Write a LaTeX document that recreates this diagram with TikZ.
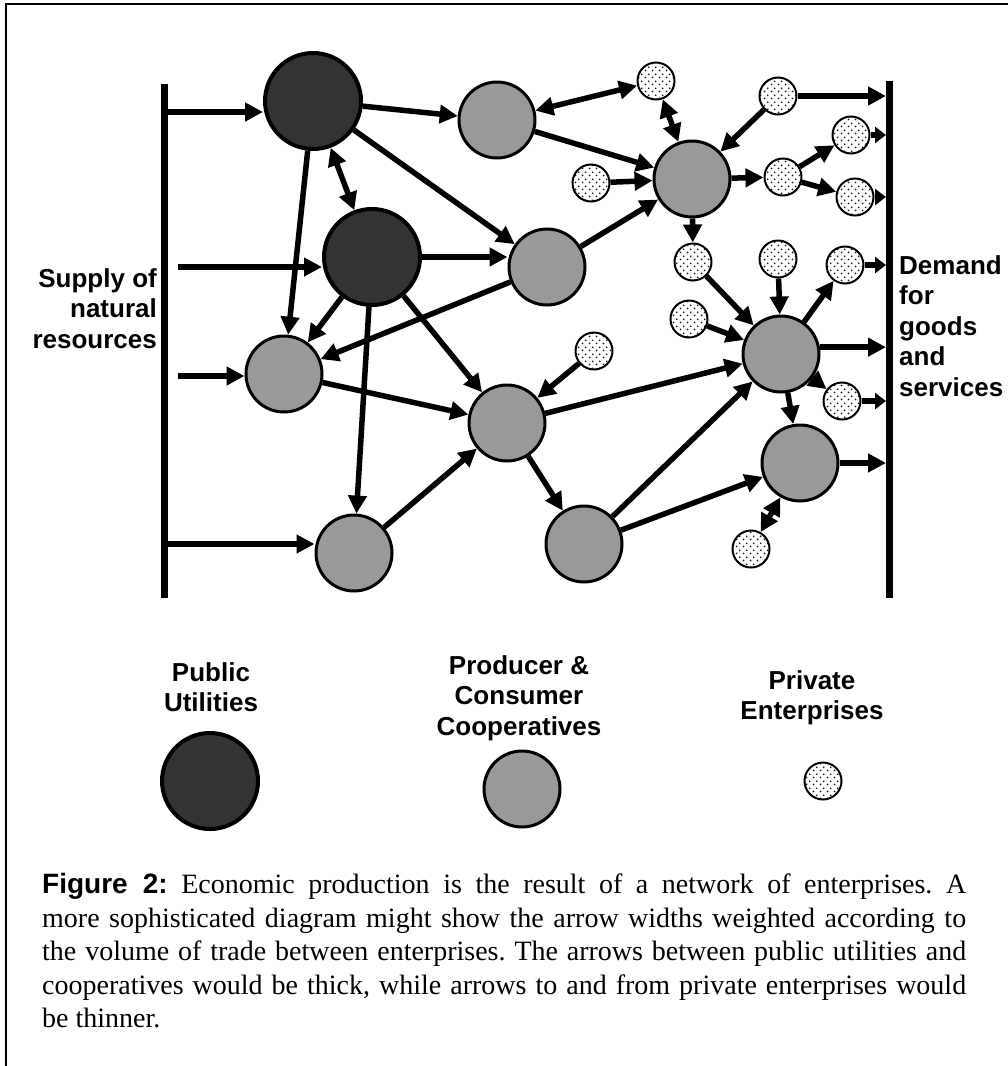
\documentclass[tikz,border=0pt]{standalone}
\usepackage{fontspec}
\setmainfont{Liberation Serif}
\setsansfont{Liberation Sans}
\usetikzlibrary{arrows.meta,patterns.meta}
\definecolor{pudark}{HTML}{333333}
\definecolor{coopgray}{HTML}{999999}
\tikzdeclarepattern{
  name=pdots,
  type=uncolored,
  bottom left={(0pt,0pt)},
  top right={(7pt,7pt)},
  tile size={(7pt,7pt)},
  code={
    \pgfpathcircle{\pgfpoint{1.75pt}{1.75pt}}{1.05pt}
    \pgfpathcircle{\pgfpoint{5.25pt}{5.25pt}}{1.05pt}
    \pgfusepath{fill}
  }
}
\frenchspacing
\begin{document}
\begin{tikzpicture}[x=1pt,y=-1pt,
  pu/.style={circle,draw=black,fill=pudark,line width=4pt,minimum size=96pt,inner sep=0pt},
  coop/.style={circle,draw=black,fill=coopgray,line width=3pt,minimum size=76pt,inner sep=0pt},
  priv/.style={circle,draw=black,preaction={fill=white},pattern=pdots,pattern color=black!90,line width=2pt,minimum size=37pt,inner sep=0pt},
  arr/.style={line width=5.5pt,-{Triangle[length=18pt,width=18pt]}},
  sarr/.style={line width=5.5pt,-{Triangle[length=11pt,width=16pt]}},
  darr/.style={line width=5.5pt,{Triangle[length=18pt,width=18pt]}-{Triangle[length=18pt,width=18pt]}},
  barline/.style={line width=7pt},
  lbl/.style={font=\sffamily\bfseries\fontsize{26}{30.5}\selectfont,inner sep=0pt},
  captext/.style={font=\fontsize{28}{33.5}\selectfont,inner sep=0pt,align=left,anchor=north west}
]
\useasboundingbox (0,0) rectangle (1008,1066);
% frame
\draw[line width=2.5pt] (6,1066) -- (6,4) -- (1008,4);
% bars
\draw[barline] (164.5,84) -- (164.5,598);
\draw[barline] (889.5,81) -- (889.5,598);
\coordinate (R) at (886,0);
\coordinate (L1) at (168,112);
\coordinate (L2) at (178,267);
\coordinate (L3) at (178,376);
\coordinate (L4) at (168,544);
% public utilities
\node[pu] (PU1) at (313,101) {};
\node[pu] (PU2) at (372,257) {};
% cooperatives
\node[coop] (C1) at (497,120) {};
\node[coop] (C2) at (692,179) {};
\node[coop] (C3) at (547,267) {};
\node[coop] (C4) at (284,374) {};
\node[coop] (C5) at (507,423) {};
\node[coop] (C6) at (354,553) {};
\node[coop] (C7) at (584,544) {};
\node[coop] (C8) at (781,354) {};
\node[coop] (C9) at (800,463) {};
% private enterprises
\node[priv] (P1) at (656,81) {};
\node[priv] (P2) at (778,96) {};
\node[priv] (P3) at (851,135) {};
\node[priv] (P4) at (591,183) {};
\node[priv] (P5) at (783,177) {};
\node[priv] (P6) at (855,197) {};
\node[priv] (P7) at (693,262) {};
\node[priv] (P8) at (778,259) {};
\node[priv] (P9) at (845,265) {};
\node[priv] (P10) at (689,319) {};
\node[priv] (P11) at (594,351) {};
\node[priv] (P12) at (842,401) {};
\node[priv] (P13) at (751,549) {};
% supply arrows
\draw[arr] (L1) -- (L1 -| PU1.west);
\draw[arr] (L2) -- (L2 -| PU2.west);
\draw[arr] (L3) -- (L3 -| C4.west);
\draw[arr] (L4) -- (L4 -| C6.west);
% network
\draw[arr] (PU1) -- (C1);
\draw[darr] (PU1) -- (PU2);
\draw[arr] (PU1) -- (C3);
\draw[arr] (PU1) -- (C4);
\draw[arr] (PU2.east) -- (PU2.east -| C3.west);
\draw[arr] (PU2) -- (C4);
\draw[arr] (C3) -- (C4);
\draw[arr] (PU2) -- (C5);
\draw[arr] (PU2) -- (C6);
\draw[arr] (C4) -- (C5);
\draw[arr] (C1) -- (C2);
\draw[darr] (C1) -- (P1);
\draw[darr] (P1) -- (C2);
\draw[arr] (P2) -- (C2);
\draw[arr] (P4) -- (C2);
\draw[arr] (C3) -- (C2);
\draw[arr] (C2) -- (P5);
\draw[arr] (P5) -- (P3);
\draw[arr] (P5) -- (P6);
\draw[arr] (C2) -- (P7);
\draw[arr] (P7) -- (C8);
\draw[arr] (P8) -- (C8);
\draw[arr] (C8) -- (P9);
\draw[arr] (P10) -- (C8);
\draw[arr] (C5) -- (C8);
\draw[arr] (C7) -- (C8);
\draw[arr] (C8) -- (P12);
\draw[arr] (C8) -- (C9);
\draw[arr] (C7) -- (C9);
\draw[darr] (C9) -- (P13);
\draw[arr] (C6) -- (C5);
\draw[arr] (C5) -- (C7);
\draw[arr] (P11) -- (C5);
% demand arrows
\draw[arr] (P2.east) -- (P2.east -| R);
\draw[sarr] (P3.east) -- (P3.east -| R);
\draw[sarr] (P6.east) -- (P6.east -| R);
\draw[sarr] (P9.east) -- (P9.east -| R);
\draw[arr] (C8.10) -- (C8.10 -| R);
\draw[sarr] (P12.east) -- (P12.east -| R);
\draw[arr] (C9.east) -- (C9.east -| R);
% side labels
\node[lbl,align=right,anchor=north east] (supply) at (157,268) {Supply of\\natural\\resources};
\node[lbl,align=left,anchor=north west] (demand) at (899,255) {Demand\\for\\goods\\and\\services};
% legend
\node[lbl,align=center,anchor=north] (lgpu) at (211,662) {Public\\Utilities};
\node[lbl,align=center,anchor=north] (lgcoop) at (519,655) {Producer \&\\Consumer\\Cooperatives};
\node[lbl,align=center,anchor=north] (lgpriv) at (812,670) {Private\\Enterprises};
\node[pu] (LPU) at (210,781) {};
\node[coop] (LC) at (522,789) {};
\node[priv] (LP) at (823,781) {};
% caption
\node[captext] (caption) at (42,873) {%
\makebox[924pt][s]{{\sffamily\bfseries Figure 2:} Economic production is the result of a network of enterprises. A}\\
\makebox[924pt][s]{more sophisticated diagram might show the arrow widths weighted according to}\\
\makebox[924pt][s]{the volume of trade between enterprises. The arrows between public utilities and}\\
\makebox[924pt][s]{cooperatives would be thick, while arrows to and from private enterprises would}\\
be thinner.};
\end{tikzpicture}
\end{document}
